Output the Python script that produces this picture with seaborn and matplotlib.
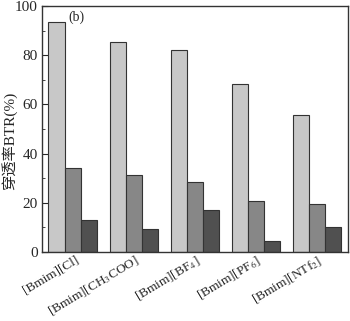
import matplotlib
matplotlib.use("Agg")
import matplotlib.pyplot as plt
import matplotlib.transforms as mtransforms
import seaborn as sns
import pandas as pd
from matplotlib.ticker import MultipleLocator

categories = ["[Bmim][Cl]", "[Bmim][CH$_3$COO]", "[Bmim][BF$_4$]", "[Bmim][PF$_6$]", "[Bmim][NTf$_2$]"]
series_names = ["S1", "S2", "S3"]
s1 = [93.7, 85.2, 82.3, 68.5, 55.6]
s2 = [34.0, 31.2, 28.4, 20.7, 19.5]
s3 = [13.0, 9.3, 17.0, 4.5, 10.1]
colors = ["#c8c8c8", "#878787", "#505050"]

rows = []
for name, vals in zip(series_names, [s1, s2, s3]):
    for c, v in zip(categories, vals):
        rows.append({"cat": c, "series": name, "val": v})
df = pd.DataFrame(rows)

sns.set_style("ticks")
plt.rcParams['font.family'] = ['Liberation Serif', 'Noto Sans CJK SC']
plt.rcParams['mathtext.fontset'] = 'stix'

fig = plt.figure(figsize=(3.5, 3.21), dpi=100)
ax = fig.add_axes([0.12, 0.215, 0.874, 0.766])
sns.barplot(data=df, x="cat", y="val", hue="series", order=categories,
            hue_order=series_names, palette=colors, width=0.79,
            edgecolor="#333333", linewidth=0.8, ax=ax, legend=False)
ax.set_xlim(-0.5, 4.5)
ax.set_ylim(0, 100)
ax.yaxis.set_major_locator(MultipleLocator(20))
ax.yaxis.set_minor_locator(MultipleLocator(10))
ax.tick_params(axis='y', which='both', direction='in', labelsize=11)
ax.tick_params(axis='y', which='major', length=4, pad=3)
ax.tick_params(axis='y', which='minor', length=2)
ax.tick_params(axis='x', length=0, labelsize=9.5, pad=1)
offset = mtransforms.ScaledTranslation(8/100, 0, fig.dpi_scale_trans)
for lab in ax.get_xticklabels():
    lab.set_rotation(31)
    lab.set_ha('right')
    lab.set_transform(lab.get_transform() + offset)
ax.set_xlabel("")
ax.set_ylabel("穿透率BTR(%)", fontsize=11, labelpad=2)
ax.yaxis.set_label_coords(-0.08, 0.45)
for sp in ax.spines.values():
    sp.set_visible(True)
    sp.set_linewidth(1.0)
    sp.set_color("#333333")
ax.text(0.085, 0.955, "(b)", transform=ax.transAxes, fontsize=10, va='center', ha='left')
fig.savefig("out.png", dpi=100)
